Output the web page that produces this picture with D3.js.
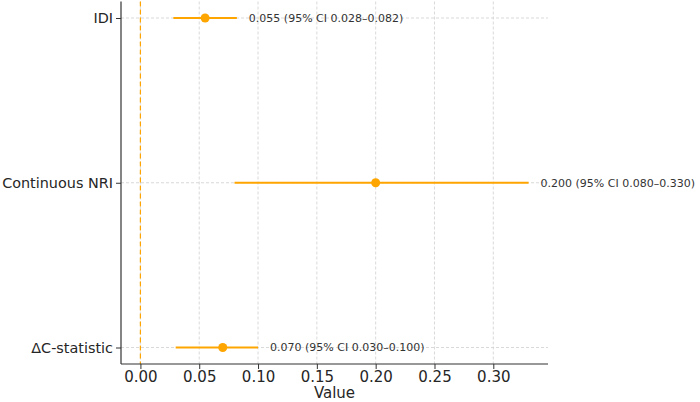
<!DOCTYPE html>
<html>
<head>
<meta charset="utf-8">
<script src="https://cdn.jsdelivr.net/npm/d3@7"></script>
<style>
  body { margin: 0; background: #fff; }
  text { font-family: "DejaVu Sans", sans-serif; }
</style>
</head>
<body>
<div class="chart"></div>
<script>
// metrics, top to bottom
const metrics = ["IDI", "Continuous NRI", "\u0394C-statistic"];
const estimates = [0.055, 0.200, 0.070];
const lowerCI = [0.028, 0.080, 0.030];
const upperCI = [0.082, 0.330, 0.100];
const xTicks = [0.00, 0.05, 0.10, 0.15, 0.20, 0.25, 0.30];

const data = metrics.map((m, i) => ({
    metric: m, est: estimates[i], lo: lowerCI[i], hi: upperCI[i]
}));

const margin = ({top: 1.5, right: 152, bottom: 38, left: 121});
const width = 700 - margin.left - margin.right;
const height = 402 - margin.top - margin.bottom;
const orange = "#FFA500";

const svg = d3.select(".chart").append("svg")
    .attr("width", 700)
    .attr("height", 402);

const plot = svg.append("g")
    .attr("transform", `translate(${margin.left},${margin.top})`);

const xScale = d3.scaleLinear()
    .domain([-0.0165, 0.3465])
    .range([0, width]);

const yScale = d3.scalePoint()
    .domain(metrics)
    .range([16.5, height - 16.5]);

// grid
plot.append("g")
    .selectAll("line")
    .data(xTicks)
    .enter()
    .append("line")
    .attr("x1", d => xScale(d)).attr("x2", d => xScale(d))
    .attr("y1", 0).attr("y2", height)
    .attr("stroke", "#cfcfcf")
    .attr("stroke-width", 0.8)
    .attr("stroke-dasharray", "3,2");

plot.append("g")
    .selectAll("line")
    .data(metrics)
    .enter()
    .append("line")
    .attr("x1", 0).attr("x2", width)
    .attr("y1", d => yScale(d)).attr("y2", d => yScale(d))
    .attr("stroke", "#cfcfcf")
    .attr("stroke-width", 0.8)
    .attr("stroke-dasharray", "3,2");

// zero reference line
plot.append("line")
    .attr("x1", xScale(0)).attr("x2", xScale(0))
    .attr("y1", 0).attr("y2", height)
    .attr("stroke", orange)
    .attr("stroke-width", 1.2)
    .attr("stroke-dasharray", "5,3");

// CI whiskers
plot.selectAll(".ci")
    .data(data)
    .enter()
    .append("line")
    .attr("class", "ci")
    .attr("x1", d => xScale(d.lo)).attr("x2", d => xScale(d.hi))
    .attr("y1", d => yScale(d.metric)).attr("y2", d => yScale(d.metric))
    .attr("stroke", orange)
    .attr("stroke-width", 2);

plot.selectAll("circle")
    .data(data)
    .enter()
    .append("circle")
    .attr("cx", d => xScale(d.est))
    .attr("cy", d => yScale(d.metric))
    .attr("r", 4.5)
    .attr("fill", orange);

plot.selectAll(".lbl")
    .data(data)
    .enter()
    .append("text")
    .attr("class", "lbl")
    .attr("x", d => xScale(d.hi) + 12)
    .attr("y", d => yScale(d.metric))
    .attr("dy", "0.35em")
    .attr("font-size", "11px")
    .attr("fill", "#333")
    .text(d => `${d.est.toFixed(3)} (95% CI ${d.lo.toFixed(3)}\u2013${d.hi.toFixed(3)})`);

// axes
const xAxis = d3.axisBottom(xScale)
    .tickValues(xTicks)
    .tickFormat(d3.format(".2f"))
    .tickSize(5)
    .tickPadding(2);

const yAxis = d3.axisLeft(yScale)
    .tickSize(5)
    .tickPadding(3);

const gx = plot.append("g")
    .attr("transform", `translate(0,${height})`)
    .call(xAxis);

const gy = plot.append("g")
    .call(yAxis);

[gx, gy].forEach(g => {
    g.select(".domain").attr("stroke", "#333").attr("stroke-width", 1.2)
        .attr("d", g === gx ? `M0,0H${width}` : `M0,0V${height}`);
    g.selectAll(".tick line").attr("stroke", "#333").attr("stroke-width", 1);
    g.selectAll(".tick text").attr("fill", "#262626")
        .attr("font-family", "DejaVu Sans, sans-serif");
});
gx.selectAll(".tick text").attr("font-size", "15px");
gy.selectAll(".tick text").attr("font-size", "14.4px");

plot.append("text")
    .attr("x", width / 2)
    .attr("y", height + 34)
    .attr("text-anchor", "middle")
    .attr("font-size", "15px")
    .attr("fill", "#262626")
    .text("Value");
</script>
</body>
</html>
